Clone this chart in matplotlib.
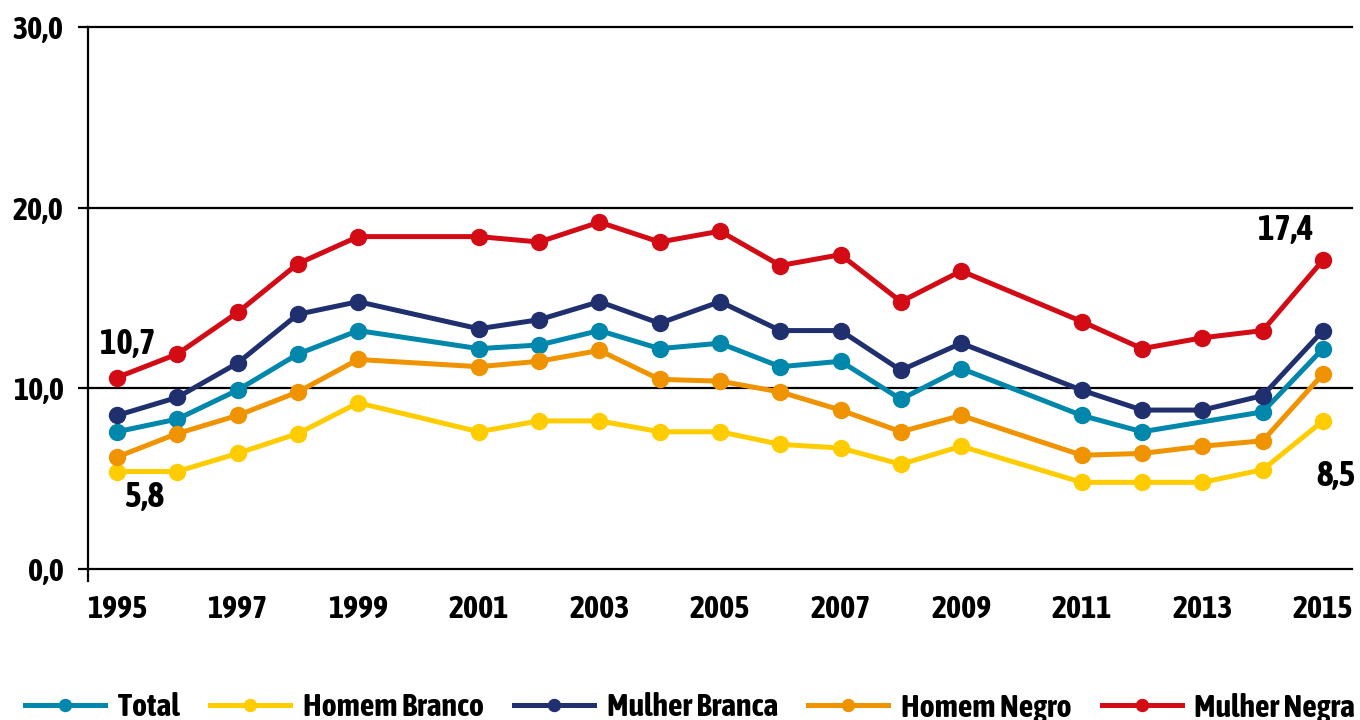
import matplotlib
matplotlib.use('Agg')
import numpy as np
import matplotlib.pyplot as plt

# --------------> DATA
years = [1995, 1996, 1997, 1998, 1999, 2001, 2002, 2003, 2004, 2005,
         2006, 2007, 2008, 2009, 2011, 2012, 2013, 2014, 2015]

# Total has no point for 2013 in the source chart
years_total = [1995, 1996, 1997, 1998, 1999, 2001, 2002, 2003, 2004, 2005,
               2006, 2007, 2008, 2009, 2011, 2012, 2014, 2015]
total = [7.6, 8.3, 9.9, 11.9, 13.2, 12.2, 12.4, 13.2, 12.2, 12.5,
         11.2, 11.5, 9.4, 11.1, 8.5, 7.6, 8.7, 12.2]

homem_branco = [5.4, 5.4, 6.4, 7.5, 9.2, 7.6, 8.2, 8.2, 7.6, 7.6,
                6.9, 6.7, 5.8, 6.8, 4.8, 4.8, 4.8, 5.5, 8.2]
mulher_branca = [8.5, 9.5, 11.4, 14.1, 14.8, 13.3, 13.8, 14.8, 13.6, 14.8,
                 13.2, 13.2, 11.0, 12.5, 9.9, 8.8, 8.8, 9.6, 13.2]
homem_negro = [6.2, 7.5, 8.5, 9.8, 11.6, 11.2, 11.5, 12.1, 10.5, 10.4,
               9.8, 8.8, 7.6, 8.5, 6.3, 6.4, 6.8, 7.1, 10.8]
mulher_negra = [10.6, 11.9, 14.2, 16.9, 18.4, 18.4, 18.1, 19.2, 18.1, 18.7,
                16.8, 17.4, 14.8, 16.5, 13.7, 12.2, 12.8, 13.2, 17.1]

tick_years = [1995, 1997, 1999, 2001, 2003, 2005, 2007, 2009, 2011, 2013, 2015]
y_ticks = [0, 10, 20, 30]

# --------------> STYLE
plt.rcParams['font.family'] = ['Asap Condensed', 'Liberation Sans', 'DejaVu Sans']
plt.rcParams['font.weight'] = 'bold'

c_total = '#0087AB'
c_hb = '#FFCC00'
c_mb = '#20306F'
c_hn = '#F09300'
c_mn = '#D20B15'

fig = plt.figure(figsize=(13.6, 7.2), dpi=100)
ax = fig.add_axes([88 / 1360, 1 - 581 / 720, 1264 / 1360, 554 / 720])

lw = 3.6
ms = 11.5
ax.plot(years_total, total, color=c_total, lw=lw, marker='o', ms=ms, label='Total', zorder=3)
ax.plot(years, homem_branco, color=c_hb, lw=lw, marker='o', ms=ms, label='Homem Branco', zorder=3)
ax.plot(years, mulher_branca, color=c_mb, lw=lw, marker='o', ms=ms, label='Mulher Branca', zorder=3)
ax.plot(years, homem_negro, color=c_hn, lw=lw, marker='o', ms=ms, label='Homem Negro', zorder=3)
ax.plot(years, mulher_negra, color=c_mn, lw=lw, marker='o', ms=ms, label='Mulher Negra', zorder=3)

# horizontal rules
for yv in y_ticks:
    ax.axhline(yv, color='black', lw=1.6, zorder=1, clip_on=False)

ax.set_xlim(1994.52, 2015.48)
ax.set_ylim(-0.66, 30)

for s in ['top', 'right', 'bottom']:
    ax.spines[s].set_visible(False)
ax.spines['left'].set_linewidth(1.6)

ax.set_yticks(y_ticks)
ax.set_yticklabels([f'{v:.1f}'.replace('.', ',') for v in y_ticks])
ax.tick_params(axis='y', length=7.5, width=1.6, pad=10, labelsize=23)
ax.set_xticks(tick_years)
ax.set_xticklabels([str(y) for y in tick_years])
ax.tick_params(axis='x', length=0, pad=9, labelsize=23)

# --------------> END LABELS
lab_kw = dict(textcoords='offset points', ha='center', va='center',
              fontsize=25, fontweight='bold')
ax.annotate('10,7', (years[0], mulher_negra[0]), xytext=(8, 24), **lab_kw)
ax.annotate('5,8', (years[0], homem_branco[0]), xytext=(20, -18), **lab_kw)
ax.annotate('17,4', (years[-1], mulher_negra[-1]), xytext=(-27, 22), **lab_kw)
ax.annotate('8,5', (years[-1], homem_branco[-1]), xytext=(9, -40), **lab_kw)

# --------------> LEGEND
fig.legend(loc='center', bbox_to_anchor=(0.5075, 1 - 708 / 720), ncol=5,
           frameon=False, fontsize=23, handlelength=2.5, handletextpad=0.4,
           columnspacing=0.95, markerscale=0.75, borderaxespad=0, borderpad=0)

fig.savefig('out.png', dpi=100)
